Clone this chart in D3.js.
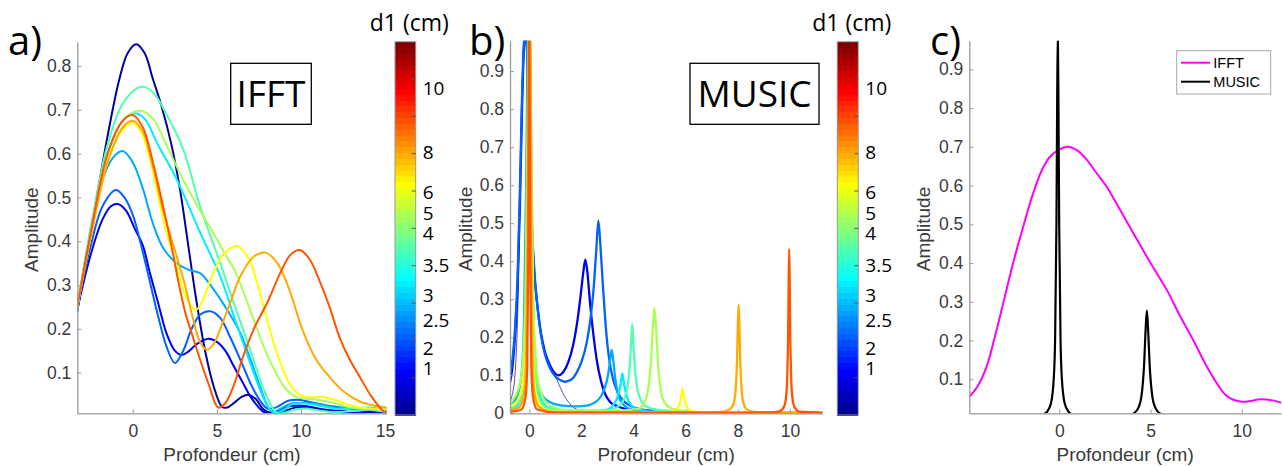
<!DOCTYPE html>
<html><head><meta charset="utf-8">
<script src="https://cdn.jsdelivr.net/npm/d3@7"></script>
<style>body{margin:0;background:#fff}svg{display:block}</style>
</head><body><svg id="chart" width="1282" height="466"></svg>
<script>
// ---------------- DATA ----------------
const d1Values = [1, 2, 2.5, 3, 3.5, 4, 5, 6, 8, 10];
const cbLabels = ["1", "2", "2.5", "3", "3.5", "4", "5", "6", "8", "10"];
const cbLabelPos = [0.125, 0.179, 0.254, 0.321, 0.402, 0.487, 0.540, 0.598, 0.705, 0.875];
const cbTickPos = [0.1, 0.2, 0.3, 0.4, 0.5, 0.6, 0.7, 0.8, 0.9];

const xTicksA = [0, 5, 10, 15];
const yTicksA = [0.1, 0.2, 0.3, 0.4, 0.5, 0.6, 0.7, 0.8];
const xTicksB = [0, 2, 4, 6, 8, 10];
const yTicksB = [0, 0.1, 0.2, 0.3, 0.4, 0.5, 0.6, 0.7, 0.8, 0.9];
const xTicksC = [0, 5, 10];
const yTicksC = [0.1, 0.2, 0.3, 0.4, 0.5, 0.6, 0.7, 0.8, 0.9];

// Panel a : IFFT, one curve per d1
const ifft_1 = [[-3.3,0.24],[-2.5,0.42],[-1.5,0.64],[-0.8,0.77],[-0.3,0.83],[0.2,0.85],[0.7,0.83],[1.2,0.77],[1.7,0.71],[2.3,0.62],[2.8,0.52],[3.3,0.39],[3.8,0.26],[4.3,0.15],[4.8,0.07],[5.3,0.022],[5.6,0.02],[6.0,0.03],[6.5,0.045],[6.9,0.049],[7.3,0.04],[7.8,0.015],[8.3,0.008],[9.0,0.012],[9.7,0.02],[10.3,0.02],[11,0.015],[12,0.01],[13,0.008],[14,0.01],[15.1,0.005]];
const ifft_2 = [[-3.3,0.245],[-2.5,0.37],[-1.8,0.45],[-1.3,0.48],[-0.9,0.485],[-0.4,0.47],[0.1,0.43],[0.6,0.39],[1.0,0.33],[1.5,0.26],[2.0,0.19],[2.5,0.15],[2.9,0.14],[3.3,0.148],[3.8,0.165],[4.5,0.177],[5.0,0.17],[5.5,0.15],[6.0,0.115],[6.5,0.08],[7.0,0.045],[7.5,0.02],[7.8,0.01],[8.3,0.008],[9.0,0.02],[9.8,0.025],[10.5,0.022],[11.5,0.015],[12.5,0.012],[13.5,0.008],[14.3,0.012],[15.1,0.005]];
const ifft_25 = [[-3.3,0.25],[-2.5,0.39],[-1.8,0.48],[-1.0,0.517],[-0.5,0.5],[0.0,0.46],[0.5,0.39],[1.0,0.31],[1.5,0.23],[2.0,0.16],[2.5,0.122],[3.0,0.15],[3.5,0.2],[4.0,0.232],[4.6,0.24],[5.2,0.225],[5.8,0.18],[6.5,0.12],[7.0,0.075],[7.5,0.04],[8.0,0.018],[8.5,0.02],[9.2,0.035],[9.8,0.038],[10.5,0.033],[11.5,0.025],[12.5,0.02],[13.5,0.015],[14.5,0.015],[15.1,0.01]];
const ifft_3 = [[-3.3,0.245],[-2.5,0.42],[-1.8,0.54],[-1.2,0.59],[-0.6,0.606],[0.0,0.58],[0.6,0.52],[1.2,0.44],[1.8,0.385],[2.6,0.35],[3.3,0.335],[4.0,0.327],[4.8,0.29],[5.5,0.25],[6.4,0.19],[7.0,0.13],[7.6,0.065],[8.15,0.015],[8.5,0.012],[8.9,0.02],[9.5,0.03],[10.2,0.03],[11,0.028],[12,0.02],[13,0.018],[14,0.015],[15.1,0.01]];
const ifft_35 = [[-3.3,0.245],[-2.5,0.43],[-1.5,0.6],[-0.7,0.67],[0.1,0.692],[0.7,0.68],[1.5,0.62],[2.5,0.55],[3.1,0.5],[4.0,0.42],[5.2,0.32],[6.0,0.23],[7.0,0.12],[7.8,0.04],[8.3,0.01],[8.6,0.008],[9.0,0.015],[9.5,0.028],[10.2,0.03],[11,0.025],[12,0.018],[13,0.018],[14,0.02],[15.1,0.015]];
const ifft_4 = [[-3.3,0.25],[-2.5,0.43],[-1.5,0.62],[-0.5,0.72],[0.5,0.753],[1.2,0.74],[2.0,0.69],[3.0,0.61],[4.0,0.48],[5.2,0.35],[6.0,0.26],[7.0,0.15],[7.8,0.06],[8.3,0.02],[8.6,0.006],[9.0,0.008],[9.6,0.015],[10.3,0.018],[11,0.014],[12,0.01],[13,0.012],[14,0.015],[15.1,0.01]];
const ifft_5 = [[-3.3,0.25],[-2.5,0.42],[-1.5,0.6],[-0.5,0.68],[0.45,0.698],[1.2,0.68],[2.0,0.62],[3.0,0.54],[4.0,0.47],[4.8,0.418],[5.5,0.37],[6.1,0.33],[7.1,0.23],[8.0,0.14],[9.0,0.068],[9.6,0.047],[10.3,0.04],[11,0.038],[12,0.03],[13,0.02],[14,0.018],[15.1,0.015]];
const ifft_6 = [[-3.3,0.25],[-2.5,0.41],[-1.5,0.58],[-0.6,0.655],[-0.05,0.671],[0.5,0.65],[1.0,0.59],[1.5,0.505],[2.0,0.42],[2.5,0.357],[3.0,0.29],[3.4,0.255],[3.75,0.243],[4.1,0.26],[4.7,0.32],[5.4,0.37],[6.2,0.389],[6.9,0.36],[7.5,0.29],[8.15,0.197],[8.8,0.12],[9.4,0.07],[10.0,0.048],[10.5,0.043],[11.2,0.045],[12,0.038],[13,0.025],[14,0.018],[15.1,0.015]];
const ifft_8 = [[-3.3,0.25],[-2.5,0.41],[-1.5,0.58],[-0.6,0.66],[0.0,0.675],[0.6,0.65],[1.2,0.57],[1.8,0.47],[2.5,0.38],[3.1,0.3],[3.6,0.22],[4.0,0.17],[4.4,0.152],[4.8,0.165],[5.3,0.21],[5.8,0.26],[6.4,0.32],[7.2,0.365],[7.9,0.374],[8.6,0.35],[9.3,0.29],[10.1,0.197],[10.9,0.13],[11.7,0.09],[12.5,0.058],[13.5,0.034],[14.3,0.025],[15.1,0.02]];
const ifft_10 = [[-3.3,0.25],[-2.5,0.42],[-1.5,0.6],[-0.6,0.675],[0.0,0.688],[0.6,0.66],[1.2,0.58],[1.8,0.48],[2.3,0.39],[2.7,0.31],[3.1,0.24],[3.5,0.19],[4.0,0.13],[4.5,0.075],[5.08,0.02],[5.5,0.03],[6.0,0.07],[6.5,0.13],[7.2,0.2],[8.0,0.26],[8.8,0.33],[9.4,0.37],[9.93,0.38],[10.5,0.36],[11.1,0.31],[11.7,0.25],[12.3,0.18],[12.9,0.13],[13.5,0.09],[14.2,0.045],[14.9,0.012],[15.1,0.01]];

// Panel b : MUSIC, one curve per d1
const music_1 = [[-0.74,0.03],[-0.65,0.05],[-0.55,0.1],[-0.45,0.25],[-0.36,0.55],[-0.28,0.8],[-0.2,0.97],[-0.15,1.0],[-0.08,0.95],[0,0.72],[0.1,0.48],[0.2,0.36],[0.3,0.29],[0.45,0.21],[0.6,0.162],[0.8,0.125],[0.95,0.104],[1.05,0.09],[1.2,0.066],[1.35,0.045],[1.5,0.03],[1.7,0.015],[1.9,0.009],[2.3,0.005],[3,0.003],[11.24,0.0005]];
const music_2 = [[-0.74,0.08],[-0.65,0.12],[-0.55,0.2],[-0.45,0.33],[-0.36,0.55],[-0.28,0.8],[-0.2,0.97],[-0.15,1.0],[-0.08,0.95],[0,0.72],[0.1,0.48],[0.2,0.36],[0.3,0.29],[0.45,0.21],[0.6,0.162],[0.8,0.125],[1.0,0.104],[1.11,0.1],[1.3,0.108],[1.5,0.135],[1.7,0.185],[1.85,0.245],[1.97,0.31],[2.07,0.37],[2.15,0.404],[2.23,0.37],[2.33,0.29],[2.46,0.206],[2.6,0.135],[2.75,0.085],[2.9,0.052],[3.1,0.03],[3.4,0.018],[4.0,0.008],[5.0,0.003],[11.24,0.0005]];
const music_25 = [[-0.74,0.1],[-0.65,0.14],[-0.55,0.22],[-0.45,0.36],[-0.37,0.56],[-0.29,0.8],[-0.21,0.97],[-0.15,1.0],[-0.09,0.96],[0,0.74],[0.1,0.5],[0.2,0.37],[0.3,0.29],[0.45,0.205],[0.6,0.155],[0.8,0.118],[1.0,0.097],[1.2,0.087],[1.37,0.083],[1.6,0.088],[1.8,0.105],[2.0,0.135],[2.2,0.185],[2.35,0.25],[2.47,0.33],[2.57,0.43],[2.65,0.507],[2.73,0.44],[2.82,0.34],[2.92,0.24],[3.03,0.16],[3.16,0.105],[3.3,0.07],[3.5,0.042],[3.75,0.025],[4.0,0.016],[4.5,0.008],[5.5,0.003],[11.24,0.0005]];
const music_3 = [[-0.74,0.02],[-0.5,0.04],[-0.3,0.1],[-0.2,0.25],[-0.12,0.6],[-0.05,1.0],[0.02,0.75],[0.08,0.42],[0.15,0.22],[0.25,0.11],[0.35,0.072],[0.5,0.047],[0.75,0.031],[1.2,0.021],[1.8,0.018],[2.2,0.02],[2.5,0.028],[2.75,0.045],[2.9,0.068],[3.02,0.1],[3.1,0.14],[3.16,0.167],[3.22,0.14],[3.3,0.09],[3.4,0.05],[3.55,0.028],[3.8,0.013],[4.2,0.006],[5,0.003],[11.24,0.0005]];
const music_35 = [[-0.74,0.01],[-0.4,0.025],[-0.2,0.08],[-0.1,0.3],[-0.03,0.85],[0.02,1.0],[0.08,0.65],[0.15,0.28],[0.25,0.11],[0.4,0.045],[0.7,0.016],[1.5,0.006],[2.5,0.005],[3.0,0.01],[3.25,0.025],[3.4,0.045],[3.5,0.075],[3.57,0.105],[3.64,0.075],[3.74,0.045],[3.9,0.022],[4.2,0.01],[5,0.003],[11.24,0.0005]];
const music_4 = [[-0.74,0.012],[-0.4,0.028],[-0.2,0.09],[-0.1,0.28],[-0.03,0.8],[0.02,1.0],[0.08,0.6],[0.15,0.24],[0.25,0.09],[0.4,0.035],[0.7,0.014],[1.5,0.006],[3.0,0.008],[3.45,0.02],[3.65,0.04],[3.77,0.07],[3.86,0.13],[3.91,0.19],[3.95,0.235],[3.99,0.19],[4.04,0.13],[4.13,0.07],[4.25,0.04],[4.45,0.02],[5.0,0.008],[6,0.003],[11.24,0.0005]];
const music_5 = [[-0.74,0.03],[-0.5,0.05],[-0.3,0.1],[-0.15,0.3],[-0.06,0.8],[0,1.0],[0.06,0.8],[0.15,0.3],[0.3,0.1],[0.5,0.045],[0.8,0.02],[1.5,0.008],[3.0,0.006],[4.15,0.011],[4.41,0.028],[4.54,0.055],[4.67,0.139],[4.735,0.222],[4.8,0.277],[4.865,0.222],[4.93,0.139],[5.06,0.055],[5.19,0.028],[5.45,0.013],[6.0,0.006],[7,0.002],[11.24,0.0005]];
const music_6 = [[-0.74,0.02],[-0.5,0.03],[-0.3,0.06],[-0.2,0.1],[-0.1,0.25],[-0.05,0.55],[0,1.0],[0.05,0.55],[0.1,0.25],[0.2,0.08],[0.35,0.03],[0.6,0.01],[1.5,0.003],[5.3,0.003],[5.6,0.008],[5.72,0.017],[5.8,0.035],[5.85,0.052],[5.88,0.065],[5.91,0.052],[5.96,0.035],[6.04,0.017],[6.16,0.008],[6.5,0.003],[11.24,0.0005]];
const music_8 = [[-0.74,0.008],[-0.4,0.015],[-0.2,0.05],[-0.12,0.15],[-0.07,0.45],[-0.02,1.0],[0.04,1.0],[0.08,0.45],[0.12,0.15],[0.2,0.05],[0.4,0.015],[1,0.003],[7.0,0.002],[7.4,0.004],[7.7,0.011],[7.85,0.0285],[7.91,0.057],[7.97,0.143],[8.0,0.228],[8.03,0.285],[8.06,0.228],[8.09,0.143],[8.15,0.057],[8.21,0.0285],[8.33,0.011],[8.63,0.004],[9.5,0.002],[11.24,0.001]];
const music_10 = [[-0.74,0.004],[-0.3,0.01],[-0.15,0.04],[-0.08,0.12],[-0.04,0.4],[0,1.0],[0.04,0.4],[0.08,0.12],[0.15,0.04],[0.3,0.01],[1,0.002],[9.0,0.002],[9.57,0.0043],[9.77,0.017],[9.85,0.043],[9.89,0.086],[9.93,0.216],[9.95,0.346],[9.97,0.432],[9.99,0.346],[10.01,0.216],[10.05,0.086],[10.09,0.043],[10.17,0.017],[10.37,0.0043],[11.24,0.002]];

// Panel c : comparison
const compare_ifft = [[-4.93,0.055],[-4.5,0.08],[-4,0.13],[-3.5,0.215],[-3,0.31],[-2.5,0.405],[-2,0.49],[-1.5,0.57],[-1,0.635],[-0.5,0.675],[0,0.693],[0.45,0.7],[1,0.69],[1.5,0.667],[2,0.635],[2.6,0.597],[3.3,0.54],[4.06,0.477],[5,0.4],[5.9,0.33],[6.6,0.265],[7.35,0.2],[8,0.14],[8.63,0.09],[9.1,0.06],[9.54,0.047],[10,0.042],[10.5,0.044],[11,0.048],[11.6,0.046],[12.15,0.04]];
const compare_music = [[-4.93,0.002],[-1.5,0.004],[-0.83,0.0099],[-0.68,0.0154],[-0.455,0.038],[-0.305,0.1],[-0.23,0.2],[-0.155,0.5],[-0.1175,0.8],[-0.08,1.0],[-0.0425,0.8],[-0.005,0.5],[0.07,0.2],[0.145,0.1],[0.295,0.038],[0.52,0.0154],[0.67,0.0099],[1.5,0.004],[3.5,0.005],[4.05,0.011],[4.35,0.028],[4.5,0.055],[4.65,0.139],[4.725,0.222],[4.8,0.277],[4.875,0.222],[4.95,0.139],[5.1,0.055],[5.25,0.028],[5.55,0.011],[6.5,0.004],[12.15,0.002]];
const legendLabels = ["IFFT", "MUSIC"];

// ---------------- STYLE ----------------
const lineColors = ["#00009c", "#0000ee", "#0062ff", "#00a8ff", "#00ecff", "#50ffb0", "#aaff55", "#ffff00", "#ffaa00", "#ff5500"];
const compareColors = ["#ff00ff", "#000000"];
const AXIS_COL = "#9a9a9a", TEXT_COL = "#3a3a3a";
const TICK_FONT = "'Liberation Sans', Arial, sans-serif";
const CAL_FONT = "'Open Sans', 'Noto Sans', sans-serif";

const ifftSeries = [ifft_1, ifft_2, ifft_25, ifft_3, ifft_35, ifft_4, ifft_5, ifft_6, ifft_8, ifft_10];
const musicSeries = [music_1, music_2, music_25, music_3, music_35, music_4, music_5, music_6, music_8, music_10];

const svg = d3.select("#chart");

function jet(t) {
  const c = v => Math.max(0, Math.min(1, v));
  const r = c(1.5 - Math.abs(4 * t - 3)), g = c(1.5 - Math.abs(4 * t - 2)), b = c(1.5 - Math.abs(4 * t - 1));
  return d3.rgb(r * 255, g * 255, b * 255).toString();
}

function fmt(v) { return (Math.round(v * 10) / 10).toString(); }

const smooth = d3.curveCatmullRom.alpha(0.5);

function panel(o) {
  const g = svg.append("g");
  const x = d3.scaleLinear().domain(o.xd).range([o.l, o.r]);
  const y = d3.scaleLinear().domain(o.yd).range([o.b, o.t]);
  const cid = "clip" + o.id;
  svg.append("defs").append("clipPath").attr("id", cid)
    .append("rect").attr("x", o.l).attr("y", o.t).attr("width", o.r - o.l).attr("height", o.b - o.t);
  const lg = g.append("g").attr("clip-path", `url(#${cid})`);
  o.series.forEach((s, i) => {
    const line = d3.line().x(d => x(d[0])).y(d => y(d[1])).curve(o.curves[i]);
    lg.append("path").attr("d", line(s)).attr("fill", "none")
      .attr("stroke", o.colors[i]).attr("stroke-width", o.widths ? o.widths[i] : 2)
      .attr("stroke-linejoin", "round").attr("stroke-linecap", "round");
  });
  const ax = g.append("g").attr("transform", `translate(0,${o.b})`)
    .call(d3.axisBottom(x).tickValues(o.xt).tickFormat(fmt).tickSizeInner(-4).tickSizeOuter(0).tickPadding(11));
  const ay = g.append("g").attr("transform", `translate(${o.l},0)`)
    .call(d3.axisLeft(y).tickValues(o.yt).tickFormat(fmt).tickSizeInner(-4).tickSizeOuter(0).tickPadding(6));
  [ax, ay].forEach(a => {
    a.select(".domain").attr("stroke", AXIS_COL).attr("stroke-width", 1.3);
    a.selectAll(".tick line").attr("stroke", AXIS_COL).attr("stroke-width", 1);
    a.selectAll(".tick text").attr("fill", TEXT_COL).style("font-family", TICK_FONT).style("font-size", "17.5px");
  });
  g.append("text").text("Amplitude").attr("transform", `translate(${o.ylx},${(o.t + o.b) / 2 + 2}) rotate(-90)`)
    .attr("text-anchor", "middle").attr("dy", "0.35em").attr("fill", TEXT_COL)
    .style("font-family", TICK_FONT).style("font-size", "19px");
  g.append("text").text("Profondeur (cm)").attr("x", (o.l + o.r) / 2).attr("y", 461)
    .attr("text-anchor", "middle").attr("fill", TEXT_COL)
    .style("font-family", TICK_FONT).style("font-size", "19px");
  g.append("text").text(o.tag).attr("x", o.tagX).attr("y", 55)
    .attr("fill", "#000").style("font-family", CAL_FONT).style("font-size", "40px");
  return { x, y };
}

function titleBox(x0, y0, w, h, label) {
  svg.append("rect").attr("x", x0).attr("y", y0).attr("width", w).attr("height", h)
    .attr("fill", "#fff").attr("stroke", "#000").attr("stroke-width", 1.3);
  svg.append("text").text(label).attr("x", x0 + w / 2).attr("y", y0 + h / 2 + 13)
    .attr("text-anchor", "middle").attr("fill", "#000")
    .style("font-family", CAL_FONT).style("font-size", "37px");
}

function colorbar(x0, top, bottom, w) {
  const cb = svg.append("g");
  const s = d3.scaleLinear().domain([0, 1]).range([bottom, top]);
  const n = 64;
  d3.range(n).forEach(i => {
    cb.append("rect").attr("x", x0).attr("width", w)
      .attr("y", s((i + 1) / n)).attr("height", s(i / n) - s((i + 1) / n) + 0.5)
      .attr("fill", jet((i + 1) / n)).attr("shape-rendering", "crispEdges");
  });
  cb.append("rect").attr("x", x0).attr("y", top).attr("width", w).attr("height", bottom - top)
    .attr("fill", "none").attr("stroke", "#9a9a9a").attr("stroke-width", 1);
  cbTickPos.forEach(p => {
    cb.append("line").attr("x1", x0 + w - 4).attr("x2", x0 + w).attr("y1", s(p)).attr("y2", s(p))
      .attr("stroke", "#555").attr("stroke-width", 1);
  });
  cbLabels.forEach((t, i) => {
    cb.append("text").text(t).attr("x", x0 + w + 7).attr("y", s(cbLabelPos[i])).attr("dy", "0.36em")
      .attr("fill", "#000").style("font-family", CAL_FONT).style("font-size", "19px");
  });
  cb.append("text").text("d1 (cm)").attr("x", x0 + w / 2 + 4).attr("y", 31)
    .attr("text-anchor", "middle").attr("fill", "#000")
    .style("font-family", CAL_FONT).style("font-size", "23px");
}

// Panel a
panel({ id: "a", l: 77.3, r: 386.7, t: 42, b: 413.3, xd: [-3.3, 15.1], yd: [0.007, 0.855],
  xt: xTicksA, yt: yTicksA, series: ifftSeries, colors: lineColors,
  curves: ifftSeries.map(() => smooth), ylx: 31, tag: "a)", tagX: 8 });
titleBox(230.7, 63.3, 80.6, 61, "IFFT");
colorbar(395, 41.7, 415, 20.7);

// Panel b
panel({ id: "b", l: 510, r: 822.3, t: 40.7, b: 413.3, xd: [-0.74, 11.24], yd: [0, 0.98],
  xt: xTicksB, yt: yTicksB, series: musicSeries, colors: lineColors,
  curves: musicSeries.map(() => d3.curveMonotoneX),
  widths: [0.7, 2.3, 2.3, 2.3, 2.3, 2.3, 2.3, 2.3, 2.3, 2.3], ylx: 465.5, tag: "b)", tagX: 469 });
titleBox(690, 63.3, 129, 61, "MUSIC");
colorbar(837.3, 41.7, 415, 21);

// Panel c
panel({ id: "c", l: 969.3, r: 1281, t: 40.7, b: 413.3, xd: [-4.93, 12.15], yd: [0.012, 0.974],
  xt: xTicksC, yt: yTicksC, series: [compare_ifft, compare_music], colors: compareColors,
  curves: [smooth, d3.curveMonotoneX], widths: [2, 2.2], ylx: 923, tag: "c)", tagX: 930 });

// Legend c
const lgd = svg.append("g");
lgd.append("rect").attr("x", 1176.7).attr("y", 50.7).attr("width", 94).attr("height", 43.3)
  .attr("fill", "#fff").attr("stroke", "#a8a8a8").attr("stroke-width", 1);
legendLabels.forEach((t, i) => {
  const yy = 62.7 + i * 19;
  lgd.append("line").attr("x1", 1181).attr("x2", 1210).attr("y1", yy).attr("y2", yy)
    .attr("stroke", compareColors[i]).attr("stroke-width", 2);
  lgd.append("text").text(t).attr("x", 1213.3).attr("y", yy).attr("dy", "0.36em")
    .attr("fill", "#000").style("font-family", TICK_FONT).style("font-size", "14.5px");
});
</script>
</body></html>
